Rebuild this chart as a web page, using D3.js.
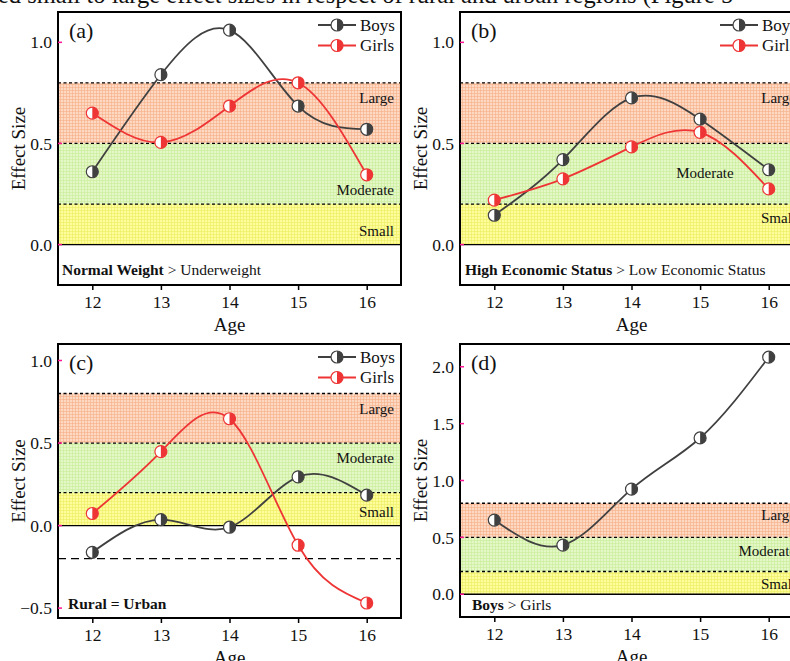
<!DOCTYPE html>
<html>
<head>
<meta charset="utf-8">
<script src="https://cdn.jsdelivr.net/npm/d3@7/dist/d3.min.js"></script>
<style>
  html, body { margin: 0; padding: 0; background: #fff; }
  svg { display: block; font-family: "Liberation Serif", "Times New Roman", serif; }
</style>
</head>
<body>
<svg id="chart" width="790" height="661"></svg>
<script>
// ---------------- DATA ----------------
const ages = [12, 13, 14, 15, 16];

const boysA  = [0.36, 0.84, 1.06, 0.685, 0.57];
const girlsA = [0.65, 0.505, 0.685, 0.80, 0.345];

const boysB  = [0.145, 0.42, 0.725, 0.62, 0.37];
const girlsB = [0.22, 0.325, 0.483, 0.555, 0.275];

const boysC  = [-0.162, 0.036, -0.01, 0.295, 0.184];
const girlsC = [0.073, 0.448, 0.647, -0.119, -0.469];

const boysD  = [0.652, 0.432, 0.924, 1.374, 2.084];

const yTicksTop = [0.0, 0.5, 1.0];
const yTicksC   = [-0.5, 0.0, 0.5, 1.0];
const yTicksD   = [0.0, 0.5, 1.0, 1.5, 2.0];

const bandNames = ["Small", "Moderate", "Large"];
const bandLower = [0.0, 0.2, 0.5];
const bandUpper = [0.2, 0.5, 0.8];

const panelLetters = ["(a)", "(b)", "(c)", "(d)"];
const compBold   = ["Normal Weight", "High Economic Status", "Rural = Urban", "Boys"];
const compNormal = [" > Underweight", " > Low Economic Status", "", " > Girls"];

const seriesNames = ["Boys", "Girls"];

const captionText = "ed small to large effect sizes in respect of rural and urban regions (Figure 5";

// ---------------- STYLE / LAYOUT ----------------
const FONT = '"Liberation Serif", "Times New Roman", serif';
const colBoys = "#404040";
const colGirls = "#EE3434";
const bandBase = ["#FDFD9C", "#E3F8C6", "#FDD9C4"];
const bandGrid = ["#EDED60", "#C8ED98", "#F6AE86"];

const layouts = [
  { left: 58,  top: 12,  w: 343, h: 273, yDom: [-0.2, 1.15], ticks: yTicksTop,
    series: [boysA, girlsA], legend: true,
    lblY: [0.04, 0.245, 0.70], lblMode: ["r", "r", "r"], textX: 62, textY: 275, extraDash: false },
  { left: 460, top: 12,  w: 343, h: 273, yDom: [-0.2, 1.15], ticks: yTicksTop,
    series: [boysB, girlsB], legend: true,
    lblY: [0.105, 0.33, 0.70], lblMode: ["r", "c", "r"], textX: 465, textY: 275, extraDash: false },
  { left: 58,  top: 344, w: 343, h: 274, yDom: [-0.56, 1.1], ticks: yTicksC,
    series: [boysC, girlsC], legend: true,
    lblY: [0.05, 0.38, 0.673], lblMode: ["r", "r", "r"], textX: 68, textY: 609, extraDash: true },
  { left: 460, top: 344, w: 343, h: 273, yDom: [-0.2, 2.2], ticks: yTicksD,
    series: [boysD], legend: false,
    lblY: [0.05, 0.34, 0.65], lblMode: ["r", "r", "r"], textX: 472, textY: 610, extraDash: false }
];

const svg = d3.select("#chart");
const defs = svg.append("defs");

// grid patterns
bandNames.forEach((n, i) => {
  const p = defs.append("pattern")
    .attr("id", "pat" + i)
    .attr("patternUnits", "userSpaceOnUse")
    .attr("width", 3).attr("height", 3);
  p.append("rect").attr("width", 3).attr("height", 3).attr("fill", bandBase[i]);
  p.append("path").attr("d", "M0,0.35H3M0.35,0V3")
    .attr("stroke", bandGrid[i]).attr("stroke-width", 0.7).attr("fill", "none");
});

// caption (partly cut at top)
svg.append("text")
  .attr("x", -2).attr("y", 3)
  .attr("font-size", 24.5)
  .attr("fill", "#111")
  .text(captionText);

const fmt = d3.format(".1f");
const colors = [colBoys, colGirls];

function halfMarker(g, cx, cy, color, r) {
  const m = g.append("g").attr("transform", `translate(${cx},${cy})`);
  m.append("circle").attr("r", r).attr("fill", "#fff");
  m.append("path")
    .attr("d", `M0,${-r}A${r},${r} 0 0 1 0,${r}Z`)
    .attr("fill", color);
  m.append("circle").attr("r", r).attr("fill", "none")
    .attr("stroke", color).attr("stroke-width", 1.2);
}

layouts.forEach((L, pi) => {
  const g = svg.append("g");
  const x = d3.scaleLinear().domain([11.5, 16.5]).range([L.left, L.left + L.w]);
  const y = d3.scaleLinear().domain(L.yDom).range([L.top + L.h, L.top]);

  // bands
  bandNames.forEach((n, i) => {
    g.append("rect")
      .attr("x", x(11.5)).attr("width", x(16.5) - x(11.5))
      .attr("y", y(bandUpper[i])).attr("height", y(bandLower[i]) - y(bandUpper[i]))
      .attr("fill", `url(#pat${i})`);
  });
  // dashed boundaries
  bandUpper.forEach(v => {
    g.append("line")
      .attr("x1", x(11.5)).attr("x2", x(16.5))
      .attr("y1", y(v)).attr("y2", y(v))
      .attr("stroke", "#000").attr("stroke-width", 1.3)
      .attr("stroke-dasharray", "3,2.5");
  });
  // zero line
  g.append("line")
    .attr("x1", x(11.5)).attr("x2", x(16.5))
    .attr("y1", y(0)).attr("y2", y(0))
    .attr("stroke", "#000").attr("stroke-width", 1.3);
  if (L.extraDash) {
    g.append("line")
      .attr("x1", x(11.5)).attr("x2", x(16.5))
      .attr("y1", y(-0.2)).attr("y2", y(-0.2))
      .attr("stroke", "#000").attr("stroke-width", 1.3)
      .attr("stroke-dasharray", "8,5");
  }

  // band labels
  bandNames.forEach((n, i) => {
    const t = g.append("text")
      .attr("y", y(L.lblY[i]))
      .attr("font-size", 15).attr("fill", "#111")
      .text(n);
    if (L.lblMode[i] === "r") {
      t.attr("x", x(16.5) - 7).attr("text-anchor", "end");
    } else {
      t.attr("x", x(15.07)).attr("text-anchor", "middle");
    }
  });

  // lines & markers
  const line = d3.line()
    .x((d, i) => x(ages[i]))
    .y(d => y(d))
    .curve(d3.curveNatural);
  L.series.forEach((s, si) => {
    g.append("path").datum(s)
      .attr("d", line)
      .attr("fill", "none")
      .attr("stroke", colors[si])
      .attr("stroke-width", 1.8);
  });
  L.series.forEach((s, si) => {
    s.forEach((v, i) => halfMarker(g, x(ages[i]), y(v), colors[si], 6));
  });

  // frame
  g.append("rect")
    .attr("x", L.left).attr("y", L.top)
    .attr("width", L.w).attr("height", L.h)
    .attr("fill", "none").attr("stroke", "#000").attr("stroke-width", 2);

  // y axis ticks (inward, magenta) and labels
  L.ticks.forEach(v => {
    g.append("line")
      .attr("x1", L.left).attr("x2", L.left + 4)
      .attr("y1", y(v)).attr("y2", y(v))
      .attr("stroke", "#FF1493").attr("stroke-width", 1.5);
    g.append("text")
      .attr("x", L.left - 6).attr("y", y(v))
      .attr("dy", "0.35em")
      .attr("text-anchor", "end")
      .attr("font-size", 17.5).attr("fill", "#111")
      .text(fmt(v));
  });
  // x axis ticks (outward) and labels
  const xAxis = d3.axisBottom(x).tickValues(ages).tickSize(4).tickFormat(d3.format("d"));
  const xa = g.append("g")
    .attr("transform", `translate(0,${L.top + L.h + 1})`)
    .call(xAxis);
  xa.attr("font-family", FONT).attr("font-size", 17.5);
  xa.select(".domain").remove();
  xa.selectAll(".tick line").attr("stroke", "#000").attr("stroke-width", 1.5);
  xa.selectAll(".tick text")
    .attr("fill", "#111")
    .attr("dy", "0.88em");

  // axis titles
  g.append("text")
    .attr("x", x(14)).attr("y", L.top + L.h + 46)
    .attr("text-anchor", "middle")
    .attr("font-size", 19).attr("fill", "#111")
    .text("Age");
  g.append("text")
    .attr("transform", `translate(${L.left - 33},${L.top + L.h / 2}) rotate(-90)`)
    .attr("text-anchor", "middle")
    .attr("font-size", 19).attr("fill", "#111")
    .text("Effect Size");

  // panel letter
  g.append("text")
    .attr("x", L.left + 11).attr("y", L.top + 26)
    .attr("font-size", 22).attr("fill", "#111")
    .text(panelLetters[pi]);

  // comparison text
  const ct = g.append("text")
    .attr("x", L.textX).attr("y", L.textY)
    .attr("font-size", 15.5).attr("fill", "#111");
  ct.append("tspan").attr("font-weight", "bold").text(compBold[pi]);
  if (compNormal[pi]) ct.append("tspan").text(compNormal[pi]);

  // legend
  if (L.legend) {
    const lx = L.left + L.w - 83;
    seriesNames.forEach((n, si) => {
      const ly = L.top + 13 + si * 20.5;
      g.append("line")
        .attr("x1", lx).attr("x2", lx + 38)
        .attr("y1", ly).attr("y2", ly)
        .attr("stroke", colors[si]).attr("stroke-width", 1.8);
      halfMarker(g, lx + 19, ly, colors[si], 6);
      g.append("text")
        .attr("x", lx + 42).attr("y", ly)
        .attr("dy", "0.35em")
        .attr("font-size", 17).attr("fill", "#111")
        .text(n);
    });
  }
});
</script>
</body>
</html>
